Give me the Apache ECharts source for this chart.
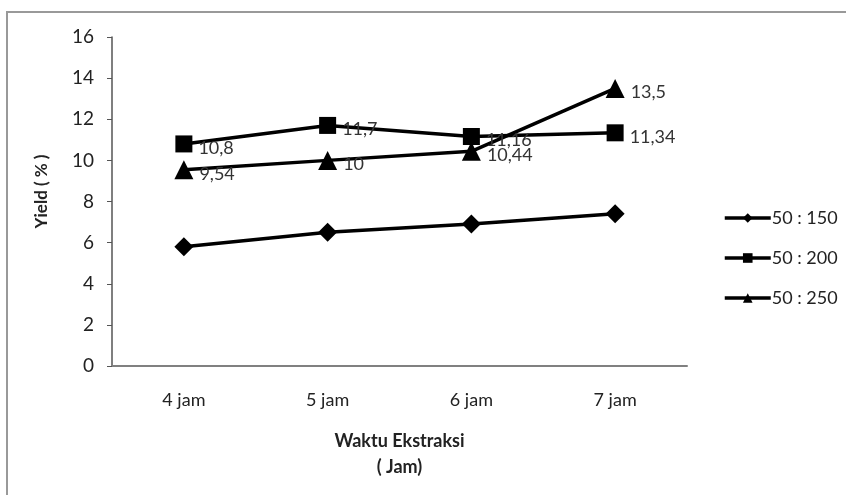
<!DOCTYPE html>
<html><head><meta charset="utf-8">
<script src="https://cdn.jsdelivr.net/npm/echarts@6/dist/echarts.min.js"></script>
<style>html,body{margin:0;padding:0;background:#fff}#c{width:846px;height:495px}</style>
</head><body><div id="c"></div>
<script>
const categories = ['4 jam', '5 jam', '6 jam', '7 jam'];
const s150 = [5.8, 6.5, 6.9, 7.4];
const s200 = [10.8, 11.7, 11.16, 11.34];
const s250 = [9.54, 10, 10.44, 13.5];
const seriesNames = ['50 : 150', '50 : 200', '50 : 250'];
const yTicks = [0, 2, 4, 6, 8, 10, 12, 14, 16];

const font = "Lato,'Open Sans',sans-serif";
const chart = echarts.init(document.getElementById('c'), null, {renderer: 'canvas'});
const fmt = p => String(p.value).replace('.', ',');
function mk(name, data, symbol, size, showLabel) {
  return {
    name, type: 'line', data, symbol, symbolSize: size,
    lineStyle: {color: '#000', width: 3.5},
    itemStyle: {color: '#000'},
    label: {show: showLabel, position: 'right', distance: 6, formatter: fmt,
      color: '#333', fontSize: 18, fontFamily: font, offset: [0, 4]},
    emphasis: {disabled: true}, animation: false
  };
}
chart.setOption({
  animation: false,
  backgroundColor: '#fff',
  graphic: [{type: 'rect', shape: {x: 7, y: 12, width: 900, height: 600},
    style: {fill: 'none', stroke: '#999', lineWidth: 2}}],
  grid: {left: 112, right: 159, top: 37, bottom: 129},
  legend: {
    orient: 'vertical', left: 718, top: 204, itemGap: 22, itemWidth: 46, itemHeight: 12,
    data: seriesNames,
    lineStyle: {width: 3.5},
    textStyle: {fontSize: 18, fontFamily: font, color: '#222', padding: [0, 0, 0, -4]}
  },
  xAxis: {
    type: 'category', data: categories, boundaryGap: true,
    axisLine: {lineStyle: {color: '#808080', width: 2}},
    axisTick: {show: false},
    axisLabel: {fontSize: 18, fontFamily: font, color: '#222', margin: 25},
    name: 'Waktu Ekstraksi\n( Jam)', nameLocation: 'middle', nameGap: 62,
    nameTextStyle: {fontSize: 18, fontFamily: font, color: '#222', fontWeight: 'bold', lineHeight: 26}
  },
  yAxis: {
    type: 'value', min: 0, max: 16, interval: 2,
    axisLine: {show: true, lineStyle: {color: '#555', width: 1.5}},
    axisTick: {show: true, inside: false, length: 5, lineStyle: {color: '#555'}},
    splitLine: {show: false},
    axisLabel: {fontSize: 19, fontFamily: font, color: '#222', margin: 18,
      formatter: v => yTicks.includes(v) ? String(v) : ''},
    name: 'Yield ( % )', nameLocation: 'middle', nameGap: 62, nameRotate: 90,
    nameTextStyle: {fontSize: 17, fontFamily: font, color: '#222', fontWeight: 'bold', padding: [0, 0, 0, 20]}
  },
  series: [
    mk(seriesNames[0], s150, 'diamond', 19, false),
    mk(seriesNames[1], s200, 'rect', 17, true),
    mk(seriesNames[2], s250, 'triangle', 19, true)
  ]
});
</script></body></html>
